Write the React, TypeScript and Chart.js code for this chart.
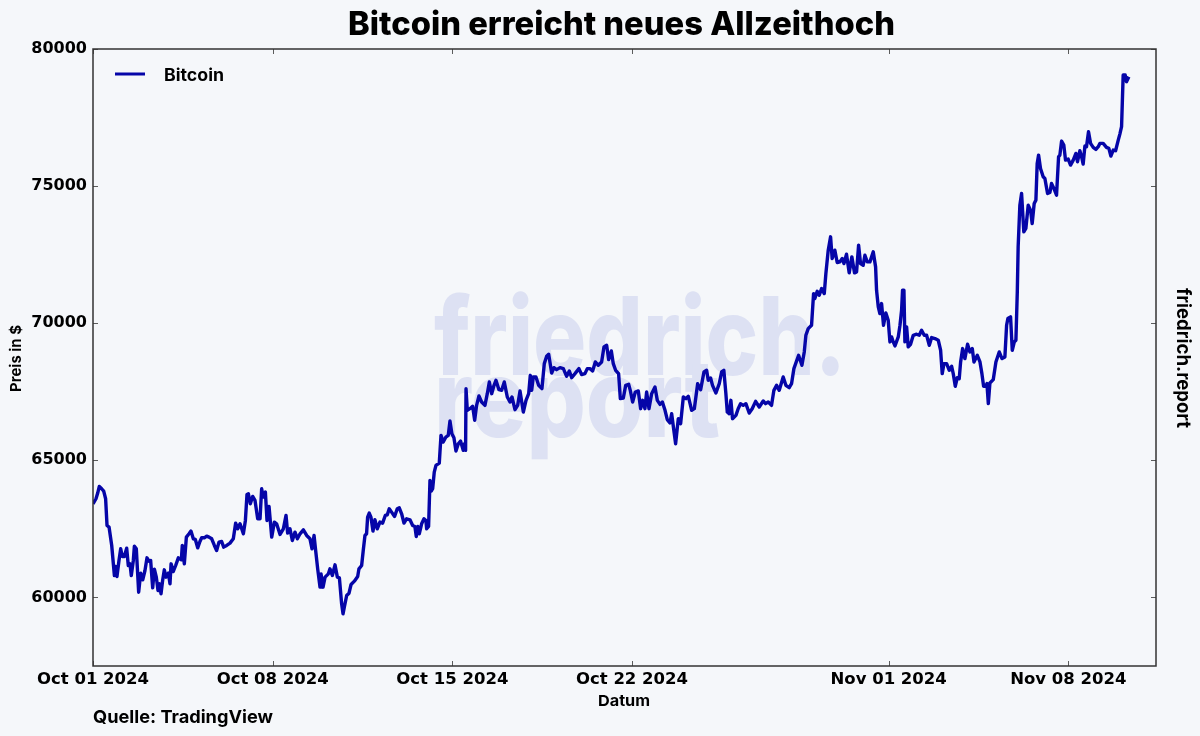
import React, { useEffect, useRef } from "react";
import { Chart, registerables } from "chart.js";

Chart.register(...registerables);

const chartTitle = "Bitcoin erreicht neues Allzeithoch";
const seriesName = "Bitcoin";
const sourceText = "Quelle: TradingView";
const brandText = "friedrich.report";
const xAxisTitle = "Datum";
const yAxisTitle = "Preis in $";
const tickHours = [0, 168, 336, 504, 744, 912];
const tickLabels = ["Oct 01 2024", "Oct 08 2024", "Oct 15 2024", "Oct 22 2024", "Nov 01 2024", "Nov 08 2024"];
const priceTicks = [60000, 65000, 70000, 75000, 80000];

// Hours since 2024-10-01 00:00, and the price at that hour.
const hours = [
  0, 2.8, 4.4, 5.9, 8.1, 10, 11.8, 13.1, 15, 17.5, 20, 21.2, 22.4, 24.3, 25.9, 27.4, 29.3, 31.5, 33, 34.6,
  35.8, 37.7, 38.7, 40.5, 42.7, 44.6, 46.5, 48.6, 50.5, 52.4, 53.9, 55.8, 57.4, 59.2, 60.8, 62.3, 63.6, 65.1, 66.7, 68.3,
  70.5, 72, 73, 75.1, 77.3, 79.8, 82.6, 83.5, 85.4, 87.3, 89.8, 91.6, 93.8, 95.7, 97.9, 100, 101.6, 104.1, 106.3, 108.5,
  111, 113.5, 115.6, 117.8, 120.3, 122.2, 125, 128.1, 131.2, 133.4, 135.3, 137.5, 140.6, 142.5, 144, 145.3, 147.1, 149.3, 151.5, 154,
  156.2, 157.7, 159.3, 161.2, 162.7, 164.6, 167.1, 169.6, 171.7, 174.9, 178, 180.5, 182, 184.2, 186.4, 188.9, 191.1, 193.6, 196.7, 199.8,
  202.9, 204.8, 206.7, 208.2, 210.1, 212.3, 213.2, 215.1, 217, 220.1, 221.6, 223.8, 226.3, 228.5, 230.4, 232.5, 233.8, 235, 237.2, 239.4,
  241.3, 244.4, 247.5, 248.7, 251.2, 252.7, 254.3, 255.8, 256.8, 258.3, 259.9, 261.8, 263.6, 265.8, 268.3, 270.8, 273.3, 275.2, 277, 279.2,
  282, 284.5, 286.4, 288.6, 290.8, 293.2, 296.4, 298.9, 301, 302.3, 303.8, 305.1, 307.3, 309.5, 311.3, 312, 313.8, 315.1, 316.3, 317.6,
  319.1, 320.7, 323.8, 325.4, 327.5, 330, 332.2, 333.8, 335.6, 337.5, 339.4, 341.6, 343.7, 346.2, 347.5, 348.4, 348.8, 350, 352.5, 355,
  356.9, 358.7, 360.9, 363.4, 366.5, 368.7, 370.6, 372.8, 375, 376.8, 379.6, 382.1, 384.6, 387.4, 389.9, 391.8, 394.6, 397.1, 399.3, 402.4,
  404.9, 407.4, 408.9, 410.2, 411.7, 414.2, 416.7, 419.8, 422, 424.2, 426.1, 428.9, 431, 433.5, 436.7, 439.8, 442.9, 445.4, 447.6, 450.7,
  454.4, 456.9, 460, 462.2, 464.7, 467.2, 469.7, 472.5, 475.6, 477.8, 480.3, 482.2, 484.7, 486.5, 488.7, 491.5, 493.1, 495.9, 498.1, 500.9,
  502.4, 504.6, 507.1, 509.9, 512.1, 514, 516.1, 517.7, 519.9, 522.4, 525.5, 527.7, 530.2, 532.4, 534.9, 537, 539.5, 541.1, 544.8, 547.3,
  549.5, 552, 554.5, 556.7, 559.8, 562.3, 565.4, 568.2, 571.3, 573.8, 575.3, 577.5, 579.3, 582.5, 585.6, 587.8, 589.9, 591.8, 593.1, 594.9,
  596.5, 598, 601.2, 603.3, 605.5, 608, 610.5, 613.6, 616.4, 619.6, 623, 626.7, 628.9, 631.4, 634.5, 636.7, 639.2, 641.7, 645.4, 647.9,
  651, 653.2, 655.4, 659.8, 662.9, 665.1, 666.6, 668.8, 671.9, 673.8, 675, 677.2, 679.1, 681.3, 683.8, 685.3, 687.5, 689.7, 691.2, 693.7,
  695.9, 698.4, 700.6, 702.2, 704.6, 707.1, 709.6, 712.1, 714, 715.9, 717.7, 720.2, 721.8, 724, 726.5, 729.6, 731.8, 732.7, 734.3, 735.8,
  737.4, 739.2, 741.4, 743.6, 745.2, 746.8, 748.3, 749.9, 753, 754.6, 756.1, 757, 758.3, 759.2, 760.8, 762.3, 764.5, 767, 770.1, 772.6,
  774.8, 777.3, 779.5, 782, 784.2, 787.3, 790.4, 792.6, 794.1, 795.7, 798.2, 800.7, 802.9, 804.4, 806.3, 808.2, 810, 811.3, 813.2, 815.3,
  817.8, 820, 822.2, 823.8, 826.9, 829.4, 831.2, 832.8, 834.7, 835.9, 837.2, 838.7, 841.8, 844.3, 847.4, 850, 852.7, 854.3, 855.5, 858,
  859.6, 861.5, 863, 864.3, 865.1, 866.7, 868.3, 870.4, 872.3, 874.5, 876.7, 878.2, 880.1, 881.7, 882.9, 884.2, 886, 888.5, 890.1, 892.6,
  894.8, 896.3, 898.5, 901, 902.9, 904.1, 905.7, 907.8, 909.4, 911.9, 914.1, 916.6, 919.1, 920.6, 922.8, 924.4, 925.9, 927.5, 929, 930.9,
  932.8, 935.3, 937.8, 940, 941.5, 944.6, 947.7, 949.9, 951.8, 954, 956.2, 958.7, 960.2, 961.8, 963.3, 965.2, 966.4, 968.6,
];

const prices = [
  63416, 63599, 63806, 64049, 63964, 63879, 63599, 62625, 62565, 61895, 60800, 61129, 60764, 61348, 61774, 61494, 61494, 61798, 61165, 61226,
  60800, 61348, 61871, 61774, 60192, 60886, 60642, 60983, 61445, 61324, 61348, 60350, 61032, 60740, 60253, 60496, 60131, 60618, 61007, 60740,
  60886, 60496, 61226, 60946, 61165, 61445, 61372, 61895, 61226, 62200, 62321, 62419, 62139, 62114, 61810, 62041, 62175, 62175, 62236, 62200,
  62139, 61895, 61713, 62017, 62041, 61835, 61895, 61980, 62139, 62711, 62504, 62686, 62321, 62808, 63757, 63781, 63416, 63684, 63538, 62869,
  62869, 63964, 63660, 63842, 62808, 63319, 62200, 62747, 62686, 62297, 62504, 62990, 62346, 62504, 62078, 62382, 62139, 62321, 62467, 62260,
  62139, 61774, 62260, 61713, 61044, 60375, 60861, 60375, 60740, 60861, 61044, 60800, 61190, 60740, 60715, 59766, 59401, 59645, 60070, 60155,
  60472, 60594, 60764, 61044, 61165, 61713, 62260, 62321, 62930, 63076, 62930, 62419, 62832, 62504, 62747, 62710, 62990, 63015, 63234, 63112,
  62954, 63234, 63270, 63051, 62710, 62869, 62832, 62625, 62589, 62224, 62589, 62321, 62686, 62869, 62808, 62504, 62589, 64268, 63879, 63964,
  64572, 64815, 64901, 65910, 65667, 65850, 65910, 66434, 65971, 65825, 65339, 65606, 65704, 65363, 65606, 65363, 67614, 66823, 66884, 66969,
  66458, 67005, 67346, 67127, 67005, 67431, 67857, 67431, 67735, 67918, 67577, 67553, 67857, 67310, 67127, 67310, 66847, 67005, 67529, 66762,
  67188, 67431, 68100, 67553, 68040, 68040, 67735, 67614, 68526, 68794, 68867, 68186, 68380, 68307, 68380, 68344, 68064, 68259, 68015, 68161,
  68344, 68125, 68161, 68344, 68344, 68259, 68587, 68465, 68587, 69135, 69195, 68672, 68989, 68526, 68283, 68161, 67249, 67273, 67735, 67772,
  67553, 67127, 67492, 67529, 66884, 67188, 66884, 67492, 66884, 67431, 67675, 67188, 67042, 67127, 66823, 66482, 66361, 66701, 65606, 66519,
  66336, 67310, 67249, 67334, 66823, 66884, 67796, 67577, 68222, 68283, 67918, 68003, 67735, 67455, 67796, 68222, 68283, 67431, 66762, 66701,
  67188, 66519, 66640, 66884, 67066, 67005, 67066, 66725, 66884, 67151, 66945, 67164, 67066, 67127, 67005, 67553, 67735, 67553, 68040, 67735,
  67650, 67796, 68344, 68830, 68465, 68952, 69560, 69804, 69925, 71081, 70899, 71166, 71021, 71264, 71081, 71811, 72663, 73150, 72359, 72663,
  72213, 72237, 72359, 72176, 72517, 71836, 72420, 71836, 71872, 72845, 72176, 72115, 72480, 72237, 72237, 72602, 72055, 71203, 70595, 70351,
  70716, 69925, 70376, 70108, 69318, 69501, 69318, 69172, 69501, 69926, 70474, 71204, 71204, 69318, 69866, 69136, 69233, 69561, 69598, 69561,
  69744, 69561, 69561, 69196, 69476, 69440, 69379, 69014, 68162, 68527, 68527, 68284, 68430, 68162, 67700, 68016, 67980, 68588, 69075, 68710,
  69233, 68953, 69075, 68588, 68831, 68588, 68162, 67700, 67700, 67797, 67067, 67822, 67943, 68588, 68953, 68710, 68771, 69926, 70170, 70231,
  69014, 69318, 69379, 71143, 72786, 74306, 74732, 73333, 73455, 74306, 74124, 73637, 74367, 74489, 75827, 76131, 75645, 75341, 75280, 74732,
  74769, 75097, 74915, 74671, 76071, 76131, 76642, 76496, 75949, 75985, 75766, 75949, 76192, 75888, 76290, 76071, 75803, 76460, 76436, 76983,
  76557, 76411, 76338, 76436, 76557, 76557, 76411, 76375, 76095, 76314, 76290, 76679, 76898, 77166, 79051, 79051, 78808, 78991,
];

const BG = "#f5f7fa";
const INK = "#000000";
const FRAME = "#333333";
const LINE = "#0505a8";
const WATERMARK = "#dde1f3";
const TEXT_FONT = "Inter";
const TICK_FONT = "'DejaVu Sans'";

function fitText(ctx: CanvasRenderingContext2D, text: string, x: number, y: number, width: number) {
  const w = ctx.measureText(text).width;
  ctx.save();
  ctx.translate(x, y);
  ctx.scale(width / w, 1);
  ctx.textAlign = "left";
  ctx.fillText(text, 0, 0);
  ctx.restore();
}

const decorPlugin = {
  id: "decor",
  beforeDatasetsDraw(chart: any) {
    const { ctx } = chart;
    ctx.save();
    ctx.fillStyle = WATERMARK;
    ctx.font = `800 108px ${TEXT_FONT}`;
    ctx.textBaseline = "alphabetic";
    fitText(ctx, "friedrich.", 434, 375, 412);
    fitText(ctx, "report", 434, 437, 286);
    ctx.restore();
  },
  afterDatasetsDraw(chart: any) {
    const { ctx, chartArea: a, scales } = chart;
    ctx.save();
    ctx.strokeStyle = FRAME;
    ctx.lineWidth = 0.8;
    ctx.beginPath();
    const tl = 5;
    for (const t of scales.x.ticks) {
      const px = Math.round(scales.x.getPixelForValue(t.value)) + 0.5;
      ctx.moveTo(px, a.bottom); ctx.lineTo(px, a.bottom - tl);
      ctx.moveTo(px, a.top); ctx.lineTo(px, a.top + tl);
    }
    for (const t of scales.y.ticks) {
      const py = Math.round(scales.y.getPixelForValue(t.value)) + 0.5;
      ctx.moveTo(a.left, py); ctx.lineTo(a.left + tl, py);
      ctx.moveTo(a.right, py); ctx.lineTo(a.right - tl, py);
    }
    ctx.stroke();
    ctx.lineWidth = 1.5;
    ctx.strokeRect(a.left, a.top, a.right - a.left, a.bottom - a.top);

    // legend, taken from the dataset
    const ds = chart.data.datasets[0];
    ctx.strokeStyle = ds.borderColor;
    ctx.lineWidth = 3;
    ctx.beginPath();
    ctx.moveTo(a.left + 22, a.top + 25);
    ctx.lineTo(a.left + 52, a.top + 25);
    ctx.stroke();
    ctx.fillStyle = INK;
    ctx.font = `700 17px ${TEXT_FONT}`;
    ctx.textBaseline = "alphabetic";
    fitText(ctx, ds.label, 164, 81, 60);

    // title and side notes
    ctx.font = `800 33px ${TEXT_FONT}`;
    fitText(ctx, chartTitle, 348, 35, 547);
    ctx.font = `700 18px ${TEXT_FONT}`;
    fitText(ctx, sourceText, 93, 723, 180);
    ctx.font = `700 15px ${TEXT_FONT}`;
    fitText(ctx, xAxisTitle, 598, 706, 52);
    ctx.save();
    ctx.translate(20.5, 392);
    ctx.rotate(-Math.PI / 2);
    ctx.font = `700 15px ${TEXT_FONT}`;
    fitText(ctx, yAxisTitle, 0, 0, 67);
    ctx.restore();
    ctx.save();
    ctx.translate(1177, 288);
    ctx.rotate(Math.PI / 2);
    ctx.font = `700 19px ${TEXT_FONT}`;
    fitText(ctx, brandText, 0, 0, 140);
    ctx.restore();
    ctx.restore();
  },
};

export default function App() {
  const ref = useRef<HTMLCanvasElement | null>(null);
  useEffect(() => {
    document.body.style.margin = "0";
    document.body.style.background = BG;
    const chart = new Chart(ref.current as HTMLCanvasElement, {
      type: "line",
      data: {
        datasets: [
          {
            label: seriesName,
            data: hours.map((h, i) => ({ x: h, y: prices[i] })),
            borderColor: LINE,
            borderWidth: 3.4,
            pointRadius: 0,
            tension: 0,
            borderJoinStyle: "round",
          },
        ],
      },
      plugins: [decorPlugin],
      options: {
        animation: false,
        responsive: false,
        devicePixelRatio: 1,
        layout: { padding: { top: 49, right: 44, left: 0, bottom: 0 } },
        plugins: { legend: { display: false }, title: { display: false }, tooltip: { enabled: false } },
        scales: {
          x: {
            type: "linear",
            min: 0,
            max: 994,
            grid: { display: false, drawTicks: false },
            border: { display: false },
            afterBuildTicks: (s: any) => { s.ticks = tickHours.map((value) => ({ value })); },
            afterFit: (s: any) => { s.height = 70; },
            ticks: {
              autoSkip: false,
              maxRotation: 0,
              padding: 4,
              color: INK,
              font: { family: TICK_FONT, weight: "bold", size: 16.5 },
              callback: (v: any) => tickLabels[tickHours.indexOf(Number(v))] ?? "",
            },
          },
          y: {
            type: "linear",
            min: 57500,
            max: 80000,
            grid: { display: false, drawTicks: false },
            border: { display: false },
            afterBuildTicks: (s: any) => { s.ticks = priceTicks.map((value) => ({ value })); },
            afterFit: (s: any) => { s.width = 93; },
            ticks: {
              padding: 6,
              color: INK,
              font: { family: TICK_FONT, weight: "bold", size: 16 },
              callback: (v: any) => String(v),
            },
          },
        },
      },
    } as any);
    return () => chart.destroy();
  }, []);
  return (
    <div style={{ width: 1200, height: 736, background: BG, overflow: "hidden" }}>
      <canvas ref={ref} width={1200} height={736} style={{ display: "block" }} />
    </div>
  );
}
